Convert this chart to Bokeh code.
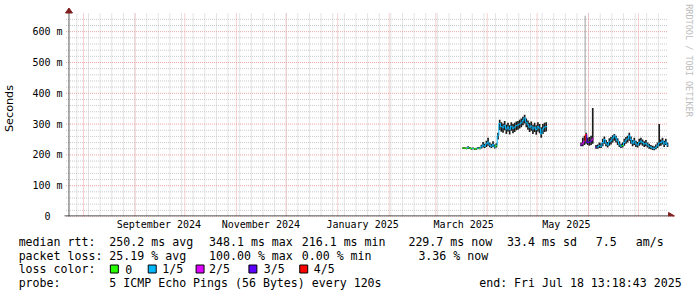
import numpy as np
import pandas as pd
from bokeh.plotting import figure
from bokeh.models import Range1d, FixedTicker, CustomJSTickFormatter, ColumnDataSource
from bokeh.core.properties import value
from bokeh.embed import file_html
from bokeh.resources import INLINE

# ---------------------------------------------------------------- data
END_TIME = "2025-07-18 13:18:43"
SPAN_DAYS = 360

# segment A: daily values from 2025-03-17 (ms)
seg_a_start = "2025-03-17"
seg_a_median = [222, 222, 221, 224, 222, 220, 221, 219, 220, 222, 221, 226, 232, 228, 236,
                242, 232, 228, 234, 226, 230, 262, 302, 292, 288, 296, 284, 291, 282, 293,
                286, 290, 295, 297, 300, 304, 312, 320, 306, 298, 290, 294, 284, 290, 282,
                292, 287, 268, 284, 290, 292]
seg_a_low = [219, 219, 218, 220, 219, 217, 218, 216, 217, 219, 218, 221, 224, 222, 226,
             230, 225, 222, 226, 221, 224, 250, 280, 275, 272, 280, 268, 276, 266, 278,
             270, 274, 280, 282, 286, 290, 296, 302, 290, 282, 274, 278, 268, 274, 265,
             276, 270, 256, 268, 274, 276]
seg_a_high = [225, 225, 224, 228, 226, 223, 224, 222, 223, 226, 225, 233, 242, 236, 246,
              256, 240, 236, 244, 234, 238, 272, 314, 306, 302, 310, 298, 304, 296, 306,
              300, 304, 308, 310, 314, 318, 324, 330, 318, 312, 304, 308, 298, 304, 296,
              306, 300, 290, 300, 304, 306]
seg_a_loss = [0, 0, 0, 1, 0, 0, 1, 0, 0, 1, 0, 1, 1, 1, 1,
              1, 1, 1, 1, 1, 0, 1, 1, 1, 1, 1, 1, 1, 1, 1,
              1, 1, 1, 1, 1, 1, 1, 1, 1, 1, 1, 1, 1, 1, 1,
              1, 1, 1, 1, 1, 1]

# segment B: daily values from 2025-05-27 (ms)
nan = float("nan")
seg_b_start = "2025-05-27"
seg_b_median = [232, 238, 245, 266, 240,
                242, 245, 252, nan, 225, 226, 230, 228, 240, 250,
                238, 232, 242, 246, 255, 262, 255, 245, 235, 228,
                230, 240, 248, 252, 262, 250, 238, 245, 236, 232,
                240, 245, 240, 235, 238, 232, 228, 225, 222, 220,
                225, 230, 238, 240, 245, 235, 242, 232]
seg_b_low = [228, 228, 232, 236, 232,
             230, 232, 236, nan, 220, 220, 222, 222, 228, 236,
             228, 224, 230, 234, 240, 246, 240, 232, 226, 222,
             224, 230, 236, 240, 246, 236, 228, 232, 226, 224,
             230, 234, 230, 226, 228, 224, 220, 218, 216, 215,
             218, 222, 228, 230, 234, 226, 232, 226]
seg_b_high = [240, 256, 262, 272, 256,
              258, 262, 352, nan, 232, 234, 240, 238, 252, 260,
              248, 242, 254, 258, 264, 268, 262, 254, 244, 236,
              240, 252, 258, 262, 272, 260, 248, 256, 246, 242,
              252, 256, 250, 244, 248, 240, 236, 232, 230, 228,
              234, 240, 300, 250, 256, 246, 252, 240]
seg_b_loss = [3, 2, 2, 4, 3,
              3, 3, 2, 1, 3, 1, 1, 1, 1, 1,
              1, 1, 1, 1, 1, 1, 1, 1, 1, 1,
              0, 1, 1, 1, 1, 1, 1, 1, 1, 1,
              1, 1, 1, 1, 1, 1, 1, 1, 1, 1,
              1, 1, 1, 1, 1, 1, 1, 1]

# single far-out ping (light smoke)
outlier_time = ["2025-05-29 22:00"]
outlier_low = [270]
outlier_high = [652]

loss_labels = ["0", "1/5", "2/5", "3/5", "4/5"]
loss_colors = ["#26ff00", "#00b8ff", "#dd00ff", "#5e00ff", "#ff0000"]

y_ticks = [0.0, 0.1, 0.2, 0.3, 0.4, 0.5, 0.6]
y_tick_labels = ["0\u00a0\u00a0", "100 m", "200 m", "300 m", "400 m", "500 m", "600 m"]
y_minor = [0.02, 0.04, 0.06, 0.08, 0.12, 0.14, 0.16, 0.18, 0.22, 0.24, 0.26, 0.28,
           0.32, 0.34, 0.36, 0.38, 0.42, 0.44, 0.46, 0.48, 0.52, 0.54, 0.56, 0.58,
           0.62, 0.64]
Y_TOP = 0.659
x_label_dates = ["2024-09-15 09:00", "2024-11-15 18:00", "2025-01-16 00:00",
                 "2025-03-17 20:00", "2025-05-18 15:00"]
x_tick_labels = ["September 2024", "November 2024", "January 2025", "March 2025", "May 2025"]

legend_rows = [
    ["median rtt:", "250.2 ms avg", "348.1 ms max", "216.1 ms min", "229.7 ms now",
     "33.4 ms sd", "7.5", "am/s"],
    ["packet loss:", "25.19 % avg", "100.00 % max", "0.00 % min", "3.36 % now"],
    ["loss color:"],
    ["probe:", "5 ICMP Echo Pings (56 Bytes) every 120s", "end: Fri Jul 18 13:18:43 2025"],
]
watermark = "RRDTOOL / TOBI OETIKER"

# ---------------------------------------------------------------- layout (canvas px)
W, H = 697, 297
FL, FR, FT, FB = 67, 667, 13, 216  # plotting area of the time axis
legend_x = [[16, 107, 207, 300, 407, 506, 595, 635],
            [16, 107, 207, 300, 417],
            [16],
            [16, 107, 478]]
legend_y = [241, 255, 268.5, 282.5]
swatch_x = [108, 146, 194, 247, 298]
swatch_label_x = [123, 160, 207, 262, 312]

MONO = "DejaVu Sans Mono"
DAY = 86400000.0


def to_ms(ts):
    return pd.Timestamp(ts).value / 1e6


end_ms = to_ms(END_TIME)
start_ms = end_ms - SPAN_DAYS * DAY
MPP = (end_ms - start_ms) / (FR - FL)     # ms per pixel
PPS = (FB - FT) / Y_TOP                   # pixels per second


def X(cx):
    return start_ms + (cx - FL) * MPP


def Y(cy):
    return (FB - cy) / PPS


p = figure(width=W, height=H,
           x_range=Range1d(X(60), X(W)), y_range=Range1d(Y(FB), Y(0)),
           output_backend="svg", toolbar_location=None,
           min_border_left=60, min_border_right=0, min_border_top=0,
           min_border_bottom=H - FB, outline_line_color=None,
           background_fill_color="white", border_fill_color="white")
p.grid.visible = False

lookup = """
let best = 0, bd = Infinity;
for (let i = 0; i < tk.length; i++) {
  const d = Math.abs(tk[i] - tick);
  if (d < bd) { bd = d; best = i; }
}
return lb[best];
"""

# y axis (labels only; line drawn below)
p.yaxis.ticker = FixedTicker(ticks=y_ticks, minor_ticks=[])
p.yaxis.formatter = CustomJSTickFormatter(args=dict(tk=y_ticks, lb=y_tick_labels), code=lookup)
p.yaxis.bounds = (0, Y_TOP)
p.yaxis.axis_line_color = None
p.yaxis.major_tick_line_color = None
p.yaxis.minor_tick_line_color = None
p.yaxis.major_tick_out = 0
p.yaxis.major_tick_in = 0
p.yaxis.major_label_standoff = 0
p.yaxis.major_label_text_font = MONO
p.yaxis.major_label_text_font_size = "10px"
p.yaxis.major_label_text_color = "#000000"
p.yaxis.axis_label = "Seconds"
p.yaxis.axis_label_text_font = "DejaVu Sans"
p.yaxis.axis_label_text_font_size = "11.2px"
p.yaxis.axis_label_text_font_style = "normal"
p.yaxis.axis_label_text_color = "#000000"
p.yaxis.axis_label_standoff = 13

# x axis (labels only)
x_ticks_ms = [to_ms(d) for d in x_label_dates]
p.xaxis.ticker = FixedTicker(ticks=x_ticks_ms, minor_ticks=[])
p.xaxis.formatter = CustomJSTickFormatter(args=dict(tk=x_ticks_ms, lb=x_tick_labels), code=lookup)
p.xaxis.axis_line_color = None
p.xaxis.major_tick_line_color = None
p.xaxis.minor_tick_line_color = None
p.xaxis.major_tick_out = 0
p.xaxis.major_tick_in = 0
p.xaxis.major_label_standoff = 2
p.xaxis.major_label_text_font = MONO
p.xaxis.major_label_text_font_size = "10px"
p.xaxis.major_label_text_color = "#000000"

# grid (dotted, rrdtool style)
GRID = "#c9c9c9"
MGRID = "#eba3a3"
week_ms = [to_ms(t) for t in pd.date_range("2024-07-28", "2025-07-13", freq="W-SUN")]
month_ms = [to_ms(t) for t in pd.date_range("2024-08-01", "2025-07-01", freq="MS")]
p.segment(x0=week_ms, x1=week_ms, y0=[0] * len(week_ms), y1=[Y_TOP] * len(week_ms),
          line_color=GRID, line_width=1, line_dash="1 1")
p.segment(x0=[X(63.5)] * len(y_minor), x1=[end_ms] * len(y_minor), y0=y_minor, y1=y_minor,
          line_color=GRID, line_width=1, line_dash="1 1")
p.segment(x0=month_ms, x1=month_ms, y0=[0] * len(month_ms), y1=[Y_TOP] * len(month_ms),
          line_color=MGRID, line_width=1, line_dash="1 1")
p.segment(x0=[X(63.5)] * len(y_ticks), x1=[end_ms] * len(y_ticks), y0=y_ticks, y1=y_ticks,
          line_color=MGRID, line_width=1, line_dash="1 1")


# data glyphs
def build(start, med, lo, hi, loss):
    days = pd.date_range(start, periods=len(med), freq="D")
    t = np.array([to_ms(d) for d in days])
    med = np.array(med, dtype=float) / 1000.0
    lo = np.array(lo, dtype=float) / 1000.0
    hi = np.array(hi, dtype=float) / 1000.0
    ok = ~np.isnan(med)
    smoke = dict(x=(t + DAY / 2)[ok], bottom=lo[ok], top=hi[ok])
    x0, x1, y0, y1, col = [], [], [], [], []
    prev = None
    for i in range(len(t)):
        if not ok[i]:
            prev = None
            continue
        c = loss_colors[loss[i]]
        if prev is not None:
            x0.append(t[i]); x1.append(t[i]); y0.append(prev); y1.append(med[i]); col.append(c)
        x0.append(t[i]); x1.append(t[i] + DAY); y0.append(med[i]); y1.append(med[i]); col.append(c)
        prev = med[i]
    seg = dict(x0=x0, x1=x1, y0=y0, y1=y1, color=col)
    return smoke, seg


for args in [(seg_a_start, seg_a_median, seg_a_low, seg_a_high, seg_a_loss),
             (seg_b_start, seg_b_median, seg_b_low, seg_b_high, seg_b_loss)]:
    smoke, seg = build(*args)
    p.vbar(x="x", bottom="bottom", top="top", width=DAY, source=ColumnDataSource(smoke),
           fill_color="#1c1c1c", line_color=None)
    p.segment(x0="x0", x1="x1", y0="y0", y1="y1", line_color="color", line_width=1,
              source=ColumnDataSource(seg))

p.vbar(x=[to_ms(t) for t in outlier_time], bottom=[v / 1000 for v in outlier_low],
       top=[v / 1000 for v in outlier_high], width=DAY * 0.6,
       fill_color="#9c9c9c", line_color=None)

# axis lines with arrows
p.segment(x0=[X(66.5)], x1=[X(66.5)], y0=[Y(219)], y1=[Y(11)], line_color="#5a5a5a", line_width=1)
p.segment(x0=[X(62)], x1=[X(668)], y0=[Y(215.5)], y1=[Y(215.5)], line_color="#1f1f1f", line_width=1)
p.patch(x=[X(63), X(66.5), X(70)], y=[Y(12.5), Y(7.5), Y(12.5)],
        fill_color="#801f1f", line_color="#801f1f")
p.patch(x=[X(668), X(674), X(668)], y=[Y(212), Y(215.5), Y(219)],
        fill_color="#801f1f", line_color="#801f1f")

# watermark on the right edge
p.text(x=[X(688.5)], y=[Y(60)], text=[watermark], angle=-np.pi / 2,
       text_font=value(MONO), text_font_size="8.5px", text_color="#bdbdbd",
       text_align="center", text_baseline="middle")

# ---------------------------------------------------------------- legend (below the axis)
tx, ty, tt = [], [], []
for row, xs, y in zip(legend_rows, legend_x, legend_y):
    for txt, x in zip(row, xs):
        tx.append(X(x)); ty.append(Y(y)); tt.append(txt)
for lab, lx in zip(loss_labels, swatch_label_x):
    tx.append(X(lx)); ty.append(Y(legend_y[2])); tt.append(lab)
p.text(x=tx, y=ty, text=tt, text_font=value(MONO), text_font_size="11.6px",
       text_color="#000000", text_align="left", text_baseline="middle", level="overlay")
p.quad(left=[X(x) for x in swatch_x], right=[X(x + 8) for x in swatch_x],
       top=[Y(legend_y[2] - 4)] * len(swatch_x), bottom=[Y(legend_y[2] + 4)] * len(swatch_x),
       fill_color=loss_colors, line_color="#000000", line_width=1, level="overlay")

open("out.html", "w").write(file_html(p, INLINE))
